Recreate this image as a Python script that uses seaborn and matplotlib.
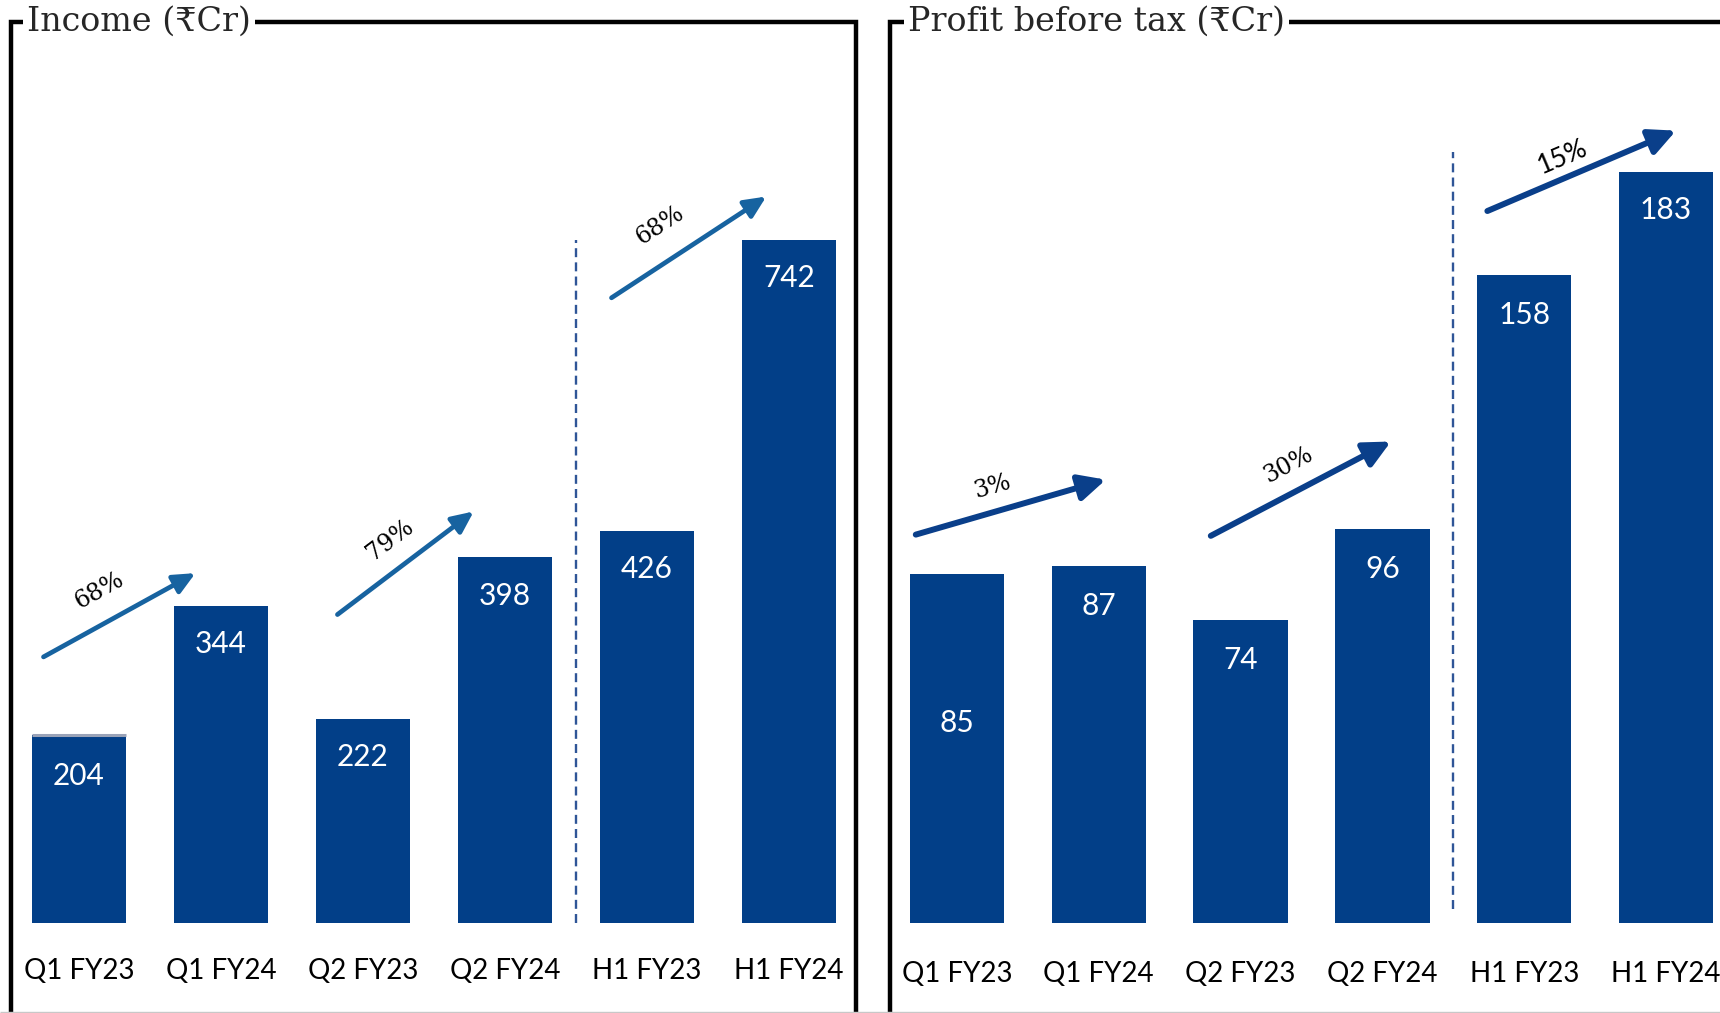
import matplotlib
matplotlib.use("Agg")
import matplotlib.pyplot as plt
from matplotlib.lines import Line2D
import seaborn as sns
import pandas as pd

# ---- data -------------------------------------------------------------
periods = ["Q1 FY23", "Q1 FY24", "Q2 FY23", "Q2 FY24", "H1 FY23", "H1 FY24"]
income = [204, 344, 222, 398, 426, 742]
pbt = [85, 87, 74, 96, 158, 183]

income_growth = ["68%", "79%", "68%"]
pbt_growth = ["3%", "30%", "15%"]

# ---- annotation placement (category position, value units) -------------
income_arrow_tail = [(-0.25, 289), (1.82, 335), (3.75, 679)]
income_arrow_head = [(0.82, 380), (2.78, 447), (4.84, 789)]
income_growth_xy = [(0.14, 361), (2.19, 416), (4.09, 758)]
income_growth_rot = [29, 37, 33]

pbt_arrow_tail = [(-0.29, 94.7), (1.79, 94.4), (3.74, 173.6)]
pbt_arrow_head = [(1.05, 108.1), (3.06, 117.4), (5.07, 193.2)]
pbt_growth_xy = [(0.25, 106.5), (2.34, 111.8), (4.27, 186.7)]
pbt_growth_rot = [16, 28, 23]

income_label_drop = [41, 38, 38, 39, 38, 38]      # pixels below bar top
pbt_label_drop = [149, 40, 40, 40, 40, 38]

# ---- style ------------------------------------------------------------
BAR = "#023F88"
ARROW_L = "#1763A0"
ARROW_R = "#0A3F8A"
DASH = "#2F5597"

sns.set_theme(style="white")
plt.rcParams["font.family"] = ["Lato", "DejaVu Sans"]
SERIF = ["DejaVu Serif", "DejaVu Sans"]

W, H = 1720, 1013
fig = plt.figure(figsize=(W / 100, H / 100), dpi=100)
fig.patch.set_facecolor("white")


def fx(px):
    return px / W


def fy(py):
    return 1 - py / H


def panel(left_px, right_px):
    ax = fig.add_axes([fx(left_px), fy(923), fx(right_px - left_px), (923 - 40) / H])
    ax.set_facecolor("none")
    return ax


def draw_bars(ax, values, ymax, drops, pad):
    df = pd.DataFrame({"period": periods, "value": values})
    sns.barplot(data=df, x="period", y="value", color=BAR, saturation=1,
                width=0.665, linewidth=0, ax=ax)
    ax.set_xlim(-0.5, len(periods) - 0.5)
    ax.set_ylim(0, ymax)
    ax.set_xlabel("")
    ax.set_ylabel("")
    ax.set_yticks([])
    ax.set_xticks(range(len(periods)), periods)
    ax.tick_params(axis="x", length=0, pad=pad, labelsize=20, colors="black")
    for s in ax.spines.values():
        s.set_visible(False)
    for i, v in enumerate(values):
        ax.annotate(str(v), xy=(i, v), xytext=(0, -drops[i]),
                    textcoords="offset pixels", ha="center", va="center",
                    color="white", fontsize=21.5)


def draw_arrows(ax, tails, heads, labels, xys, rots, color, lw, hl, hw, fonts):
    for (t, h, lab, xy, rot, fnt) in zip(tails, heads, labels, xys, rots, fonts):
        ax.annotate("", xy=h, xytext=t,
                    arrowprops=dict(arrowstyle=f"-|>,head_length={hl},head_width={hw}",
                                    color=color, lw=lw, shrinkA=0, shrinkB=0,
                                    mutation_scale=20))
        ax.text(xy[0], xy[1], lab, rotation=rot, rotation_mode="anchor",
                ha="center", va="center", color="black", **fnt)


# ---- Income panel -----------------------------------------------------
ax1 = panel(8, 860)
draw_bars(ax1, income, 959, income_label_drop, 25)
ax1.hlines(income[0], -0.3325, 0.3325, color="#9AA3B8", lw=2.2, zorder=3)
ax1.vlines(3.5, 0, income[-1], color=DASH, lw=1.7, linestyles=(0, (3.8, 2.2)))
serif_lab = dict(family=SERIF, fontsize=17)
draw_arrows(ax1, income_arrow_tail, income_arrow_head, income_growth,
            income_growth_xy, income_growth_rot, ARROW_L, 3.4, 0.65, 0.3,
            [serif_lab] * 3)

# ---- Profit before tax panel ------------------------------------------
ax2 = panel(886, 1737)
draw_bars(ax2, pbt, 215.3, pbt_label_drop, 27)
ax2.vlines(3.5, 3.5, 188, color=DASH, lw=1.7, linestyles=(0, (3.8, 2.2)))
draw_arrows(ax2, pbt_arrow_tail, pbt_arrow_head, pbt_growth,
            pbt_growth_xy, pbt_growth_rot, ARROW_R, 4.3, 0.8, 0.39,
            [serif_lab, serif_lab, dict(fontsize=19)])

# ---- panel frames with titles ------------------------------------------
def frame_line(xs, ys, lw=3.2, color="black"):
    fig.add_artist(Line2D([fx(x) for x in xs], [fy(y) for y in ys],
                          transform=fig.transFigure, color=color, lw=lw,
                          solid_capstyle="butt", solid_joinstyle="miter"))


frame_line([11, 11, 856, 856], [1013, 22, 22, 1013])
frame_line([890, 890, 1720], [1013, 22, 22])
frame_line([0, 1720], [1011.5, 1011.5], lw=1.0, color="#C8C8C8")

title_box = dict(boxstyle="square,pad=0.12", facecolor="white", edgecolor="none")
fig.text(fx(27), fy(22), "Income (₹Cr)", family=SERIF, fontsize=24,
         ha="left", va="center", bbox=title_box)
fig.text(fx(908), fy(22), "Profit before tax (₹Cr)", family=SERIF, fontsize=24,
         ha="left", va="center", bbox=title_box)

fig.savefig("out.png", dpi=100, facecolor="white")
